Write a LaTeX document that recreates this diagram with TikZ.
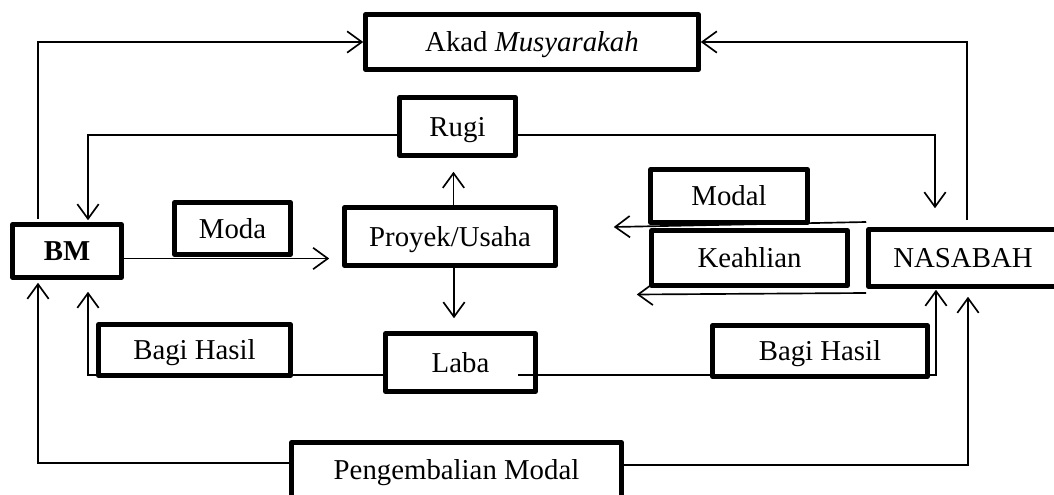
\documentclass[tikz,border=0pt]{standalone}
\usepackage{fontspec}
\setmainfont{Liberation Serif}
\usetikzlibrary{arrows.meta,calc}
\tikzset{every picture/.style={line width=0.75pt}}
\tikzset{box/.style={draw, line width=3.4pt, line join=round, inner sep=0pt, text height=14.5pt, text depth=0pt, font=\fontsize{21.6}{25}\selectfont},
  arr/.style={line width=1.25pt, -{Straight Barb[length=11pt,width=16pt]}}}

\begin{document}
\begin{tikzpicture}[x=0.75pt,y=0.75pt,yscale=-1,xscale=1]
\useasboundingbox (0,0) rectangle (1054,495);
\node [box, minimum width=249.75pt, minimum height=41.25pt] (akad) at (532,42) {Akad \textit{Musyarakah}};
\node [box, minimum width=87pt, minimum height=43.5pt] (rugi) at (457.5,126.5) {Rugi};
\node [box, minimum width=158.25pt, minimum height=43.5pt] (proyek) at (450,236.5) {Proyek/Usaha};
\node [box, minimum width=87pt, minimum height=39pt] (moda) at (232.5,228.5) {Moda};
\node [box, minimum width=81.75pt, minimum height=39.75pt] (bm) at (67,251) {\textbf{BM}};
\node [box, minimum width=112.5pt, minimum height=43.5pt] (laba) at (460.5,362.5) {Laba};
\node [box, minimum width=144pt, minimum height=38.25pt, text depth=-7pt] (bagikiri) at (194.5,350) {Bagi Hasil};
\node [box, minimum width=161.25pt, minimum height=38.25pt, text depth=-7pt] (bagikanan) at (820,351) {Bagi Hasil};
\node [box, minimum width=117.75pt, minimum height=39.75pt] (modal) at (729,196) {Modal};
\node [box, minimum width=147pt, minimum height=41.25pt] (keahlian) at (749.5,258) {Keahlian};
\node [box, minimum width=141.75pt, minimum height=42.75pt] (nasabah) at (963,258) {NASABAH};
\node [box, minimum width=247.5pt, minimum height=41.25pt] (kembali) at (456.5,470) {Pengembalian Modal};

\draw [arr] ($(bm.north)+(-29,-3)$) |- (akad.west) ;
\draw [arr] ($(nasabah.north)+(4,-7)$) |- (akad.east) ;
\draw [arr] ($(rugi.west)+(0,8.5)$) -| ($(bm.north)+(21,-2)$) ;
\draw [arr] ($(rugi.east)+(0,8.5)$) -| ($(nasabah.north)+(-28,-19)$) ;
\draw [arr] ($(proyek.north)+(3.5,0)$) -- ($(rugi.south)+(-4,14)$) ;
\draw [arr] ($(bm.east)+(0,7.5)$) -- ($(proyek.west)+(-13,22)$) ;
\draw [arr] ($(proyek.south)+(4,0)$) -- ($(laba.north)+(-6.5,-13)$) ;
\draw [arr] ($(laba.west)+(0,12.5)$) -| ($(bm.south)+(21,12)$) ;
\draw [arr] ($(laba.center)+(57.5,12.5)$) -| ($(nasabah.south)+(-27,1)$) ;
\draw [arr] ($(kembali.west)+(0,-7)$) -| ($(bm.south)+(-29,3)$) ;
\draw [arr] ($(kembali.east)+(0,-5)$) -| ($(nasabah.south)+(5,8)$) ;
\draw [arr] ($(nasabah.west)+(0,-36)$) -- ($(proyek.east)+(56,-9.5)$) ;
\draw [arr] ($(nasabah.west)+(0,35)$) -- ($(proyek.east)+(79,58)$) ;
\end{tikzpicture}
\end{document}
